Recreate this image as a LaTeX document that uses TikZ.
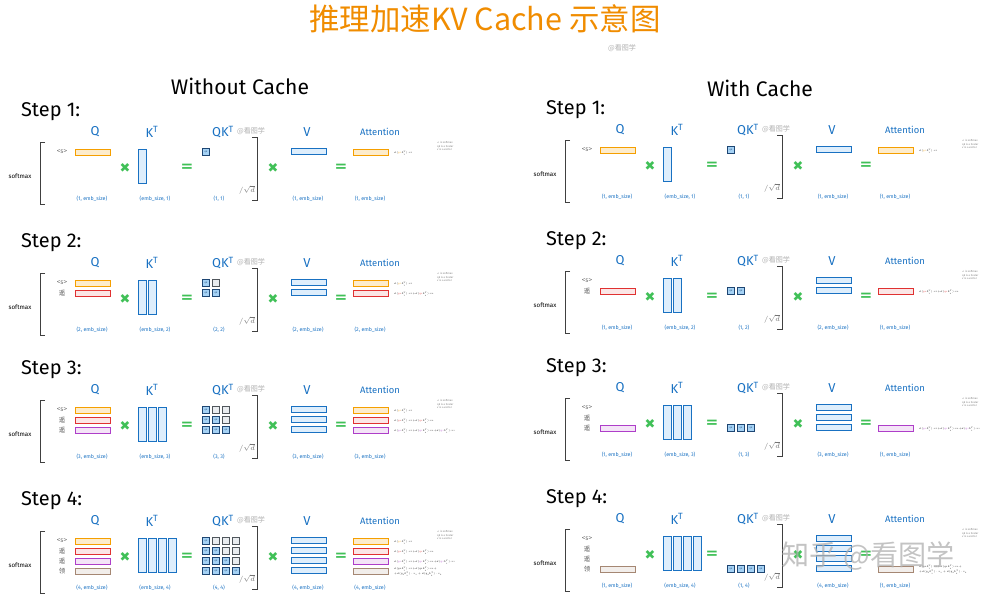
\documentclass[tikz,border=0pt]{standalone}
\usepackage{fix-cm}
\usepackage{fontspec}
\setmainfont{Fira Sans}
\newfontfamily\cjk{Noto Sans CJK SC}
\newfontfamily\dvs{DejaVu Sans}
\usetikzlibrary{positioning}
\definecolor{titleorange}{RGB}{240,140,0}
\definecolor{labelblue}{RGB}{25,113,194}
\definecolor{opgreen}{RGB}{64,192,87}
\definecolor{kvfill}{RGB}{222,238,252}
\definecolor{qkdark}{RGB}{30,70,115}
\definecolor{qkfill}{RGB}{165,210,245}
\definecolor{maskgray}{RGB}{80,86,92}
\definecolor{maskfill}{RGB}{233,236,239}
\definecolor{rowyellow}{RGB}{245,159,0}
\definecolor{rowred}{RGB}{224,49,49}
\definecolor{rowpurple}{RGB}{174,62,201}
\definecolor{rowbeige}{RGB}{165,135,115}
\definecolor{markgray}{RGB}{175,175,175}

\newcommand\tokname[1]{\ifcase#1\or <s>\or 遥\or 遥\or 领\fi}
\newcommand\attform[1]{\medmuskip=0mu\relax\thinmuskip=0mu\relax\ifcase#1\or
  $\sigma(\textcolor{rowyellow}{q_1}k_1^T)\cdot v_1$\or
  $\sigma(\textcolor{rowred}{q_2}k_1^T)\cdot v_1+\sigma(\textcolor{rowred}{q_2}k_2^T)\cdot v_2$\or
  $\sigma(\textcolor{rowpurple}{q_3}k_1^T)\cdot v_1+\sigma(\textcolor{rowpurple}{q_3}k_2^T)\cdot v_2+\sigma(\textcolor{rowpurple}{q_3}k_3^T)\cdot v_3$\or
  $\sigma(q_4k_1^T)\cdot v_1+\sigma(q_4k_2^T)\cdot v_2+$\\$+\sigma(q_4k_3^T)\cdot v_3+\sigma(q_4k_4^T)\cdot v_4$\fi}

\tikzset{
  row1/.style={draw=rowyellow, fill=rowyellow!20},
  row2/.style={draw=rowred, fill=rowred!12},
  row3/.style={draw=rowpurple, fill=rowpurple!14},
  row4/.style={draw=rowbeige, fill=rowbeige!14},
  heading/.style={font=\fontsize{18}{18}\selectfont},
  steplabel/.style={anchor=west, font=\fontsize{17}{17}\selectfont},
  matlabel/.style={text=labelblue, font=\fontsize{11}{11}\selectfont},
  attlabel/.style={text=labelblue, font=\fontsize{8}{8}\selectfont},
  dimlabel/.style={text=labelblue, font=\fontsize{4.5}{5}\selectfont},
  toklabel/.style={text=black!65, font=\cjk\fontsize{5.5}{6}\selectfont},
  smlabel/.style={font=\fontsize{5.3}{6}\selectfont},
  hbar/.style={minimum width=1.05cm, minimum height=0.18cm, inner sep=0pt, line width=0.5pt},
  vbar/.style={hbar, draw=labelblue, fill=kvfill},
  kcol/.style={draw=labelblue, fill=kvfill, minimum width=0.24cm, minimum height=1.02cm, inner sep=0pt, line width=0.5pt},
  qkcell/.style={draw=qkdark, fill=qkfill, minimum size=0.22cm, inner sep=0pt, line width=0.5pt,
    text=qkdark, font=\fontsize{2}{2}\selectfont},
  maskcell/.style={draw=maskgray, fill=maskfill, minimum size=0.22cm, inner sep=0pt, line width=0.4pt},
  opmul/.style={text=opgreen, font=\dvs\fontsize{11}{11}\selectfont},
  opeq/.style={text=opgreen, font=\dvs\bfseries\fontsize{13}{13}\selectfont},
  bracketline/.style={draw=black!75, line width=0.6pt},
  formula/.style={anchor=west, inner sep=0pt, align=left, font=\fontsize{2.3}{3}\selectfont},
  legendtext/.style={anchor=north west, inner sep=0pt, align=left, text=black!50, font=\fontsize{2.3}{3.2}\selectfont},
  wmark/.style={text=markgray, font=\cjk\fontsize{6}{6}\selectfont}
}

\begin{document}
\begin{tikzpicture}[x=0.03cm, y=-0.03cm]
  \useasboundingbox (0,0) rectangle (994,609);

  % Title and panel headings
  \node[text=titleorange, font=\cjk\fontsize{26}{26}\selectfont] (title) at (485,19) {推理加速KV Cache 示意图};
  \node[wmark] (title-mark) at (622,48) {@看图学};
  \node[heading] (head-L) at (240,86) {Without Cache};
  \node[heading] (head-R) at (760,88) {With Cache};

  % Steps (L: without cache, R: with cache)
  \foreach \side/\dx/\dy/\mode in {L/0/0/0, R/525/-2/1} {
    \foreach \n/\oy in {1/0, 2/131, 3/258, 4/389} {
      \pgfmathsetmacro\sy{\oy+\dy}
      \pgfmathtruncatemacro\first{\mode==1 ? \n : 1}
      \pgfmathtruncatemacro\rows{\n-\first+1}
      \begin{scope}[shift={(\dx,\sy)}]
        \node[steplabel] (step-\side-\n) at (17,112) {Step \n:};
        \node[smlabel] (sm-\side-\n) at (20,176) {softmax};
        \draw[bracketline] (45,142) -- (40,142) -- (40,204) -- (45,204);
        \draw[bracketline] (252,137) -- (257,137) -- (257,200) -- (252,200);
        \node[text=black!55, font=\fontsize{6}{6}\selectfont] (sqrt-\side-\n) at (247,190) {$/\sqrt{d}$};

        % Column titles
        \node[matlabel] (lq-\side-\n) at (95,132) {Q};
        \node[matlabel] (lk-\side-\n) at (152,132) {K\textsuperscript{T}};
        \node[matlabel] (lqk-\side-\n) at (223,132) {QK\textsuperscript{T}};
        \node[wmark] (mark-\side-\n) at (251,131) {@看图学};
        \node[matlabel] (lv-\side-\n) at (307,132) {V};
        \node[attlabel] (latt-\side-\n) at (380,132) {Attention};

        % Operators
        \node[opmul] (mul1-\side-\n) at (125,168) {✖};
        \node[opeq] (eq1-\side-\n) at (187,168) {=};
        \node[opmul] (mul2-\side-\n) at (273,168) {✖};
        \node[opeq] (eq2-\side-\n) at (341,168) {=};

        % Tokens, K^T and V
        \foreach \i in {1,...,\n} {
          \node[toklabel] (tok-\side-\n-\i) at (62,{152+10*(\i-1)}) {\tokname{\i}};
          \node[kcol] (k-\side-\n-\i) at ({142+10*(\i-1)},166) {};
          \node[vbar] (v-\side-\n-\i) at (308.5,{151+10*(\i-1)}) {};
        }

        % Q, QK^T, Attention
        \foreach \i in {\first,...,\n} {
          \node[hbar, row\i] (q-\side-\n-\i) at (93,{152+10*(\i-1)}) {};
          \node[hbar, row\i] (att-\side-\n-\i) at (370.5,{152.5+10*(\i-1)}) {};
          \node[formula] (f-\side-\n-\i) at (394,{153+10*(\i-1)}) {\attform{\i}};
          \foreach \j in {1,...,\n} {
            \ifnum\j>\i\relax
              \node[maskcell] (qk-\side-\n-\i-\j) at ({206+10*(\j-1)},{152+10*(\i-1)}) {};
            \else
              \node[qkcell] (qk-\side-\n-\i-\j) at ({206+10*(\j-1)},{152+10*(\i-1)}) {qk};
            \fi
          }
        }

        % Legend
        \node[legendtext] (leg-\side-\n) at (437,141) {$\sigma$ is softmax\\qk is a Scalar\\v is a vector};

        % Shapes
        \node[dimlabel] (dq-\side-\n) at (92,199) {(\rows, emb\_size)};
        \node[dimlabel] (dk-\side-\n) at (155,199) {(emb\_size, \n)};
        \node[dimlabel] (dqk-\side-\n) at (219,199) {(\rows, \n)};
        \node[dimlabel] (dv-\side-\n) at (308,199) {(\n, emb\_size)};
        \node[dimlabel] (datt-\side-\n) at (370,199) {(\rows, emb\_size)};
      \end{scope}
    }
  }

  % Watermark
  \node[text=markgray, opacity=0.75, font=\cjk\fontsize{24}{24}\selectfont] (zhihu) at (868,556) {知乎 @看图学};
\end{tikzpicture}
\end{document}
